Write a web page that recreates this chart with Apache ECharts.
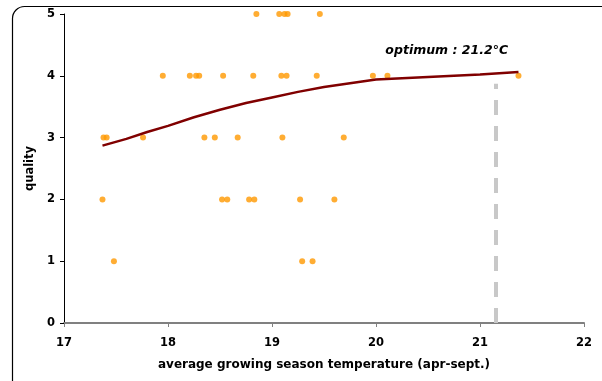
<!DOCTYPE html>
<html>
<head>
<meta charset="utf-8">
<script src="https://cdn.jsdelivr.net/npm/echarts@6/dist/echarts.min.js"></script>
<style>
  html, body { margin: 0; padding: 0; background: #fff; }
  #chart { width: 602px; height: 381px; }
</style>
</head>
<body>
<div id="chart"></div>
<script>
// observed years: temperature (apr-sept.) and quality score
const obsTemp = [
  18.85, 19.07, 19.12, 19.15, 19.46,
  17.95, 18.21, 18.27, 18.30, 18.53, 18.82, 19.09, 19.14, 19.43, 19.97, 20.11, 21.37,
  17.38, 17.41, 17.76, 18.35, 18.45, 18.67, 19.10, 19.69,
  17.37, 18.52, 18.57, 18.78, 18.83, 19.27, 19.60,
  17.48, 19.29, 19.39
];
const obsQuality = [
  5, 5, 5, 5, 5,
  4, 4, 4, 4, 4, 4, 4, 4, 4, 4, 4, 4,
  3, 3, 3, 3, 3, 3, 3, 3,
  2, 2, 2, 2, 2, 2, 2,
  1, 1, 1
];

// fitted response curve
const fitTemp = [17.37, 17.6, 17.8, 18.0, 18.25, 18.5, 18.75, 19.0, 19.25, 19.5, 19.75, 20.0, 20.5, 21.0, 21.37];
const fitQuality = [2.87, 2.98, 3.09, 3.19, 3.33, 3.45, 3.56, 3.65, 3.74, 3.82, 3.88, 3.94, 3.98, 4.02, 4.06];

const optimumTemp = 21.15;
const optimumLabel = 'optimum : 21.2°C';

const chart = echarts.init(document.getElementById('chart'));

const font = '"DejaVu Sans", Verdana, sans-serif';

chart.setOption({
  animation: false,
  backgroundColor: '#fff',
  textStyle: { fontFamily: font },
  graphic: [{
    type: 'rect',
    left: 10, top: 4,
    shape: { width: 640, height: 386, r: 12 },
    style: { fill: 'none', stroke: '#000', lineWidth: 1.2 },
    silent: true
  }],
  grid: { left: 64, right: 18, top: 14, bottom: 58 },
  xAxis: {
    type: 'value',
    min: 17, max: 22, interval: 1,
    name: 'average growing season temperature (apr-sept.)',
    nameLocation: 'middle',
    nameGap: 36,
    nameTextStyle: { fontFamily: font, fontWeight: 'bold', fontSize: 12, color: '#000' },
    axisLine: { lineStyle: { color: '#808080', width: 2 } },
    axisTick: { show: true, length: 4, lineStyle: { color: '#808080' } },
    axisLabel: { fontFamily: font, fontWeight: 'bold', fontSize: 11.5, color: '#000', margin: 14 },
    splitLine: { show: false }
  },
  yAxis: {
    type: 'value',
    min: 0, max: 5, interval: 1,
    name: 'quality',
    nameLocation: 'middle',
    nameGap: 28,
    nameTextStyle: { fontFamily: font, fontWeight: 'bold', fontSize: 11.5, color: '#000' },
    axisLine: { show: true, lineStyle: { color: '#000', width: 1 } },
    axisTick: { show: true, length: 4, lineStyle: { color: '#000' } },
    axisLabel: { fontFamily: font, fontWeight: 'bold', fontSize: 11.5, color: '#000', margin: 9 },
    splitLine: { show: false }
  },
  series: [
    {
      type: 'scatter',
      data: obsTemp.map((t, i) => [t, obsQuality[i]]),
      symbolSize: 6,
      itemStyle: { color: '#ff9900' },
      z: 3
    },
    {
      type: 'line',
      data: fitTemp.map((t, i) => [t, fitQuality[i]]),
      showSymbol: false,
      smooth: false,
      lineStyle: { color: '#800000', width: 2.5 },
      z: 4,
      markLine: {
        silent: true,
        symbol: ['none', 'none'],
        label: { show: false },
        lineStyle: { color: '#c8c8c8', width: 4, type: [15, 11] },
        data: [[{ coord: [optimumTemp, 0] }, { coord: [optimumTemp, 3.87] }]]
      },
      markPoint: {
        silent: true,
        symbol: 'circle',
        symbolSize: 0,
        label: {
          show: true,
          formatter: optimumLabel,
          fontFamily: font,
          fontStyle: 'italic',
          fontWeight: 'bold',
          fontSize: 12.5,
          color: '#000'
        },
        data: [{ coord: [20.68, 4.41] }]
      }
    }
  ]
});
</script>
</body>
</html>
